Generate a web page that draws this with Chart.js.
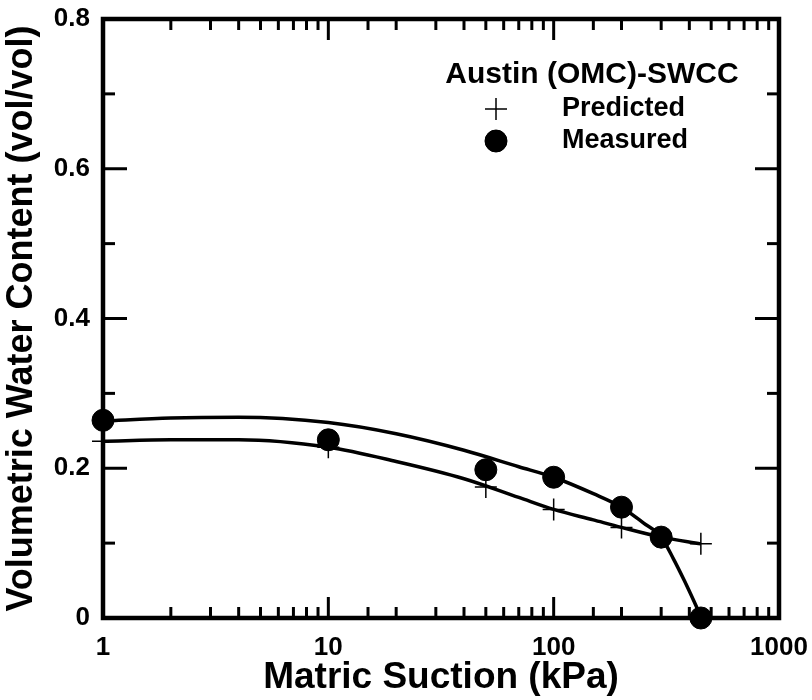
<!DOCTYPE html>
<html>
<head>
<meta charset="utf-8">
<script src="https://cdn.jsdelivr.net/npm/chart.js@4"></script>
<style>
  body { margin: 0; background: #fff; }
  #wrap { width: 812px; height: 700px; }
</style>
</head>
<body>
<div id="wrap"><canvas id="swcc" width="812" height="700"></canvas></div>
<script>
// measured points (suction kPa, vol. water content)
const measuredSuction = [1, 10, 50, 100, 200, 300, 450];
const measuredTheta = [0.264, 0.238, 0.198, 0.188, 0.148, 0.108, 0.0];

// predicted points
const predictedSuction = [1, 10, 50, 100, 200, 300, 450];
const predictedTheta = [0.236, 0.228, 0.175, 0.145, 0.121, 0.108, 0.099];

const measuredFitSuction = [1, 2, 4, 10, 20, 40, 70, 100, 150, 200, 250, 300, 340, 380, 420, 450];
const measuredFitTheta = [0.263, 0.267, 0.268, 0.261, 0.246, 0.224, 0.202, 0.188, 0.166, 0.148, 0.127, 0.108, 0.079, 0.050, 0.022, 0.002];

// fitted curve through the predicted data
const predictedFitSuction = [1, 2, 4, 10, 20, 40, 70, 100, 150, 200, 300, 450];
const predictedFitTheta = [0.236, 0.238, 0.238, 0.228, 0.209, 0.186, 0.161, 0.145, 0.131, 0.121, 0.108, 0.099];

const xTickLabels = [1, 10, 100, 1000];
const yTickLabels = [0, 0.2, 0.4, 0.6, 0.8];
const legendTitle = "Austin (OMC)-SWCC";

const FONT = '"Liberation Sans", Arial, sans-serif';
Chart.defaults.font.family = FONT;
Chart.defaults.color = "#000";

function pts(xs, ys) {
  return xs.map((x, i) => ({ x, y: ys[i] }));
}

// labels may hang past the plot edges, don't let them shrink it
function noPad(s) {
  s.paddingTop = 0;
  s.paddingBottom = 0;
  s.paddingLeft = 0;
  s.paddingRight = 0;
}

// frame + inward ticks on all four sides
const frameTicks = {
  id: "frameTicks",
  beforeDatasetsDraw(chart) {
    const { ctx, chartArea: a, scales } = chart;
    const x = scales.x, y = scales.y;
    ctx.save();
    ctx.strokeStyle = "#000";
    ctx.lineCap = "butt";
    ctx.lineWidth = 3;
    const seg = (x1, y1, x2, y2) => {
      ctx.beginPath();
      ctx.moveTo(x1, y1);
      ctx.lineTo(x2, y2);
      ctx.stroke();
    };
    x.ticks.forEach((t) => {
      const v = t.value;
      if (v <= 1 || v >= 1000) return;
      const lg = Math.log10(v);
      const major = Math.abs(lg - Math.round(lg)) < 1e-9;
      const len = major ? 21 : 11;
      const px = x.getPixelForValue(v);
      seg(px, a.bottom, px, a.bottom - len);
      seg(px, a.top, px, a.top + len);
    });
    y.ticks.forEach((t) => {
      const v = t.value;
      if (v <= 0 || v >= 0.8) return;
      const major = Math.round(v * 10) % 2 === 0;
      const len = major ? 24 : 12;
      const py = y.getPixelForValue(v);
      seg(a.left, py, a.left + len, py);
      seg(a.right, py, a.right - len, py);
    });
    ctx.lineWidth = 4.5;
    ctx.strokeRect(a.left, a.top, a.width, a.height);
    ctx.restore();
  },
};

// legend block inside the plot
const insideLegend = {
  id: "insideLegend",
  afterDraw(chart) {
    const { ctx } = chart;
    ctx.save();
    ctx.fillStyle = "#000";
    ctx.strokeStyle = "#000";
    ctx.textBaseline = "middle";
    ctx.textAlign = "center";
    ctx.font = "bold 30px " + FONT;
    ctx.fillText(legendTitle, 592, 75);
    ctx.textAlign = "left";
    ctx.font = "bold 27px " + FONT;
    const items = [chart.data.datasets[1], chart.data.datasets[0]];
    items.forEach((ds, i) => {
      const yy = 109 + i * 32;
      ctx.lineWidth = ds.borderWidth;
      Chart.helpers.drawPoint(ctx, {
        pointStyle: ds.pointStyle,
        radius: ds.pointRadius,
        borderWidth: ds.borderWidth,
        rotation: 0,
      }, 496, yy);
      if (ds.pointStyle === "circle") {
        ctx.beginPath();
        ctx.arc(496, yy, ds.pointRadius, 0, Math.PI * 2);
        ctx.fill();
      }
      ctx.fillText(ds.label, 562, yy);
    });
    ctx.restore();
  },
};

new Chart(document.getElementById("swcc"), {
  type: "scatter",
  data: {
    datasets: [
      {
        label: "Measured",
        data: pts(measuredSuction, measuredTheta),
        pointStyle: "circle",
        pointRadius: 11,
        backgroundColor: "#000",
        borderColor: "#000",
        borderWidth: 1,
        clip: false,
      },
      {
        label: "Predicted",
        data: pts(predictedSuction, predictedTheta),
        pointStyle: "cross",
        pointRadius: 11,
        borderColor: "#000",
        borderWidth: 1.5,
        clip: false,
      },
      {
        label: "Measured fit",
        data: pts(measuredFitSuction, measuredFitTheta),
        showLine: true,
        pointRadius: 0,
        borderColor: "#000",
        borderWidth: 3.5,
        cubicInterpolationMode: "monotone",
      },
      {
        label: "Predicted fit",
        data: pts(predictedFitSuction, predictedFitTheta),
        showLine: true,
        pointRadius: 0,
        borderColor: "#000",
        borderWidth: 3.5,
        cubicInterpolationMode: "monotone",
      },
    ],
  },
  options: {
    responsive: false,
    animation: false,
    layout: { padding: { top: 19, right: 33, left: 0, bottom: 0 } },
    plugins: { legend: { display: false }, tooltip: { enabled: false } },
    scales: {
      x: {
        type: "logarithmic",
        min: 1,
        max: 1000,
        grid: { display: false, drawTicks: false },
        border: { display: false },
        afterFit: (s) => { s.height = 82; noPad(s); },
        ticks: {
          autoSkip: false,
          maxRotation: 0,
          padding: 14,
          font: { size: 26, weight: "bold" },
          callback: (v) => (xTickLabels.includes(v) ? String(v) : ""),
        },
        title: {
          display: true,
          text: "Matric Suction (kPa)",
          font: { size: 37, weight: "bold", lineHeight: 1.2 },
          padding: { top: 0, bottom: 0 },
        },
      },
      y: {
        min: 0,
        max: 0.8,
        grid: { display: false, drawTicks: false },
        border: { display: false },
        afterFit: (s) => { s.width = 103; noPad(s); },
        ticks: {
          stepSize: 0.1,
          autoSkip: false,
          padding: 13,
          font: { size: 26, weight: "bold" },
          callback: (v) => {
            const r = Math.round(v * 10) / 10;
            return yTickLabels.includes(r) ? (r === 0 ? "0" : r.toFixed(1)) : "";
          },
        },
        title: {
          display: true,
          text: "Volumetric Water Content (vol/vol)",
          font: { size: 36, weight: "bold", lineHeight: 1.2 },
          padding: { top: 0, bottom: 0 },
        },
      },
    },
  },
  plugins: [frameTicks, insideLegend],
});
</script>
</body>
</html>
